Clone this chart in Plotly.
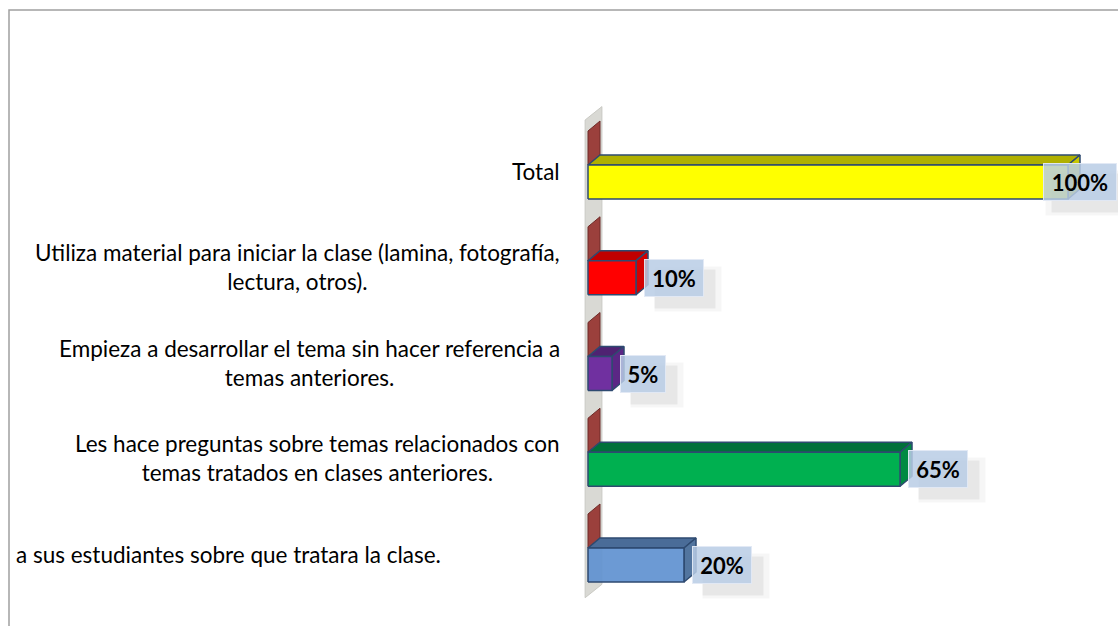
"""3D-style horizontal bar chart (Excel look) rebuilt with Plotly."""
import plotly.graph_objects as go

# ---- data -----------------------------------------------------------------
categories = [
    "Total",
    "Utiliza material para iniciar la clase (lamina, fotografía,<br>lectura, otros).",
    "Empieza a desarrollar el tema sin hacer referencia a<br>temas anteriores.",
    "Les hace preguntas sobre temas relacionados con<br>temas tratados en clases anteriores.",
    "a sus estudiantes sobre que tratara la clase.",
]
values = [100, 10, 5, 65, 20]
second_series = [0, 0, 0, 0, 0]
value_labels = ["100%", "10%", "5%", "65%", "20%"]

# ---- styles ---------------------------------------------------------------
front_colors = ["#FFFF00", "#FF0000", "#7030A0", "#00B050", "rgba(95,145,208,0.92)"]
top_colors = ["#B0B000", "#C00000", "#4F2272", "#00703A", "#4A6C98"]
side_colors = ["#C8C800", "#D40000", "#5B2785", "#008A42", "#52759F"]
label_anchor = ["right", "right", "right", "right", "left"]
edge = "#2E4A70"
font_family = "Lato, 'Open Sans', sans-serif"

W, H = 1118, 626
ML, MR, MT, MB = 584, 0, 70, 12
X0_PX, Y0_PX = 588, 548          # pixel position of x=0 / y=0
PX_X, PX_Y = 4.8, 95.75           # pixels per data unit
DX, DY = 12 / PX_X, 10 / PX_Y     # 3D depth offset
BAR_H = 34 / PX_Y

x_range = [(ML - X0_PX) / PX_X, (W - MR - X0_PX) / PX_X]
y_range = [(Y0_PX - (H - MB)) / PX_Y, (Y0_PX - MT) / PX_Y]

n = len(categories)
pos = [n - 1 - i for i in range(n)]

fig = go.Figure()


def poly(xs, ys, fill, line_color=edge, width=1.5):
    fig.add_trace(go.Scatter(
        x=xs + [xs[0]], y=ys + [ys[0]], mode="lines", fill="toself",
        fillcolor=fill, line=dict(color=line_color, width=width),
        hoverinfo="skip", showlegend=False,
    ))


# back wall
wall_lo, wall_hi = y_range[0] + 0.17, pos[0] + 0.47
poly([-0.6, -0.6, DX + 0.4, DX + 0.4],
     [wall_lo, wall_hi, wall_hi + 0.14, wall_lo + 0.14],
     "#D9D9D4", line_color="#CACAC4", width=1)

for i, c in enumerate(pos):
    v = values[i]
    s2 = second_series[i]
    # second series (zero length: only its end face shows)
    poly([s2, s2, s2 + DX, s2 + DX],
         [c, c + BAR_H, c + BAR_H + DY, c + DY],
         "#9B403C", line_color="#6E2B28", width=1)
    # top face
    poly([0, v, v + DX, DX], [c, c, c + DY, c + DY], top_colors[i])
    # side face
    poly([v, v + DX, v + DX, v], [c - BAR_H, c - BAR_H + DY, c + DY, c], side_colors[i])
    # front face
    poly([0, v, v, 0], [c - BAR_H, c - BAR_H, c, c], front_colors[i])

annotations = []
for i, c in enumerate(pos):
    # category labels
    if label_anchor[i] == "right":
        annotations.append(dict(
            x=0, y=c, xref="x", yref="y", xanchor="right", yanchor="middle",
            xshift=-26, yshift=-6, text=categories[i], showarrow=False, align="center",
            font=dict(family=font_family, size=22.5, color="#000000"),
        ))
    else:
        annotations.append(dict(
            x=0, y=c, xref="x", yref="y", xanchor="left", yanchor="middle",
            xshift=14 - X0_PX, yshift=-6, text=categories[i], showarrow=False,
            font=dict(family=font_family, size=22.5, color="#000000"),
        ))

for i, c in enumerate(pos):
    v = values[i]
    box_w = 14 * len(value_labels[i]) + 6
    yc = c - BAR_H / 2
    if X0_PX + v * PX_X + 8 + box_w + 12 > W:
        lx, anchor, shift = x_range[1], "right", -1
    else:
        lx, anchor, shift = v, "left", 8
    # soft shadow
    for k, alpha in ((8, 0.035), (2, 0.06)):
        annotations.append(dict(
            x=lx, y=yc, xref="x", yref="y", xanchor=anchor, yanchor="middle",
            xshift=shift + 10, yshift=-11, text=" ", showarrow=False,
            width=box_w + k, height=26 + k, borderpad=5,
            bgcolor=f"rgba(0,0,0,{alpha})",
            font=dict(family=font_family, size=22),
        ))
    annotations.append(dict(
        x=lx, y=yc, xref="x", yref="y", xanchor=anchor, yanchor="middle",
        xshift=shift, text=f"<b>{value_labels[i]}</b>", showarrow=False,
        width=box_w, height=26, borderpad=5,
        bgcolor="rgba(185,205,229,0.85)", bordercolor="rgba(225,233,244,0.95)",
        borderwidth=1,
        font=dict(family=font_family, size=22, color="#000000"),
    ))

fig.update_layout(
    width=W, height=H,
    margin=dict(l=ML, r=MR, t=MT, b=MB),
    plot_bgcolor="white", paper_bgcolor="white",
    xaxis=dict(range=x_range, visible=False, fixedrange=True),
    yaxis=dict(range=y_range, visible=False, fixedrange=True),
    annotations=annotations,
    shapes=[dict(
        type="rect", xref="paper", yref="paper", layer="above",
        x0=(9 - ML) / (W - ML - MR), x1=1.5,
        y0=-0.5, y1=(H - MB - 10) / (H - MT - MB),
        line=dict(color="#A0A0A0", width=1.5),
    )],
)

fig.write_html(
    "out.html",
    config={"displayModeBar": False},
    post_script="document.body.style.margin='0';document.body.style.overflow='hidden';",
)
